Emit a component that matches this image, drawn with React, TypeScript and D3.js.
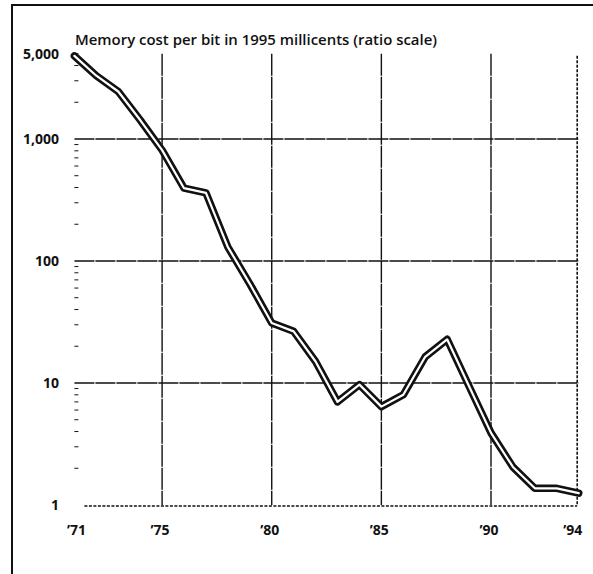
import React, { useEffect, useRef } from 'react';
import * as d3 from 'd3';

// memory cost per bit, 1995 millicents
const years = [1971, 1972, 1973, 1974, 1975, 1976, 1977, 1978, 1979, 1980, 1981, 1982,
  1983, 1984, 1985, 1986, 1987, 1988, 1989, 1990, 1991, 1992, 1993, 1994];
const costs = [4800, 3300, 2450, 1430, 810, 395, 362, 130, 65, 31, 26.5, 15,
  7.0, 9.7, 6.4, 8.0, 16.4, 22.8, 9.4, 3.9, 2.05, 1.37, 1.37, 1.25];

const yTickValues = [1, 10, 100, 1000, 5000];
const yTickLabels = ['1', '10', '100', '1,000', '5,000'];
const xTickValues = [1971, 1975, 1980, 1985, 1990, 1994];
const xTickLabels = ['\u201971', '\u201975', '\u201980', '\u201985', '\u201990', '\u201994'];
const gridYears = [1975, 1980, 1985, 1990];
const gridValues = [10, 100, 1000];

const title = 'Memory cost per bit in 1995 millicents (ratio scale)';

const App = () => {
  const svgRef = useRef(null);

  useEffect(() => {
    const svg = d3.select(svgRef.current);
    svg.selectAll('*').remove();

    const font = '"Open Sans", "Liberation Sans", sans-serif';
    const ink = '#111';

    const x = d3.scaleLinear().domain([1971, 1994]).range([74.4, 578.7]);
    const y = d3.scaleLog().domain([1, 5000]).range([505, 53.7]);

    // outer frame (top + left)
    svg.append('line')
      .attr('x1', 11).attr('x2', 593).attr('y1', 5).attr('y2', 5)
      .style('stroke', ink).style('stroke-width', 2.2);
    svg.append('line')
      .attr('x1', 12).attr('x2', 12).attr('y1', 4).attr('y2', 574)
      .style('stroke', ink).style('stroke-width', 2);

    // title
    svg.append('text')
      .attr('x', 75).attr('y', 45)
      .attr('textLength', 362)
      .attr('lengthAdjust', 'spacingAndGlyphs')
      .style('font-family', font)
      .style('font-weight', 600)
      .style('font-size', '14px')
      .style('fill', ink)
      .text(title);

    const g = svg.append('g');

    // horizontal gridlines
    g.selectAll('.hgrid')
      .data(gridValues)
      .enter().append('line')
      .attr('class', 'hgrid')
      .attr('x1', x(1971)).attr('x2', x(1994))
      .attr('y1', d => y(d)).attr('y2', d => y(d))
      .style('stroke', ink).style('stroke-width', 1.4)
      .style('stroke-dasharray', '20,1');

    // vertical gridlines
    g.selectAll('.vgrid')
      .data(gridYears)
      .enter().append('line')
      .attr('class', 'vgrid')
      .attr('x1', d => x(d)).attr('x2', d => x(d))
      .attr('y1', y(5000)).attr('y2', y(1))
      .style('stroke', ink).style('stroke-width', 1.4)
      .style('stroke-dasharray', '22,1');

    // right border (dotted) and baseline
    g.append('line')
      .attr('x1', x(1994) - 1.5).attr('x2', x(1994) - 1.5)
      .attr('y1', y(5000) + 2).attr('y2', y(1))
      .style('stroke', ink).style('stroke-width', 1.6)
      .style('stroke-dasharray', '3,1.5');
    g.append('line')
      .attr('x1', x(1971) + 10).attr('x2', x(1994) - 1.5)
      .attr('y1', y(1) + 1).attr('y2', y(1) + 1)
      .style('stroke', ink).style('stroke-width', 1.3)
      .style('stroke-dasharray', '3,1.5');

    // minor log ticks on the left
    const minor = [];
    [1, 10, 100, 1000].forEach(dec => {
      for (let k = 2; k <= 9; k++) {
        if (dec * k <= 5000) minor.push(dec * k);
      }
    });
    g.selectAll('.minor')
      .data(minor)
      .enter().append('line')
      .attr('class', 'minor')
      .attr('x1', x(1971)).attr('x2', x(1971) + 4)
      .attr('y1', d => y(d)).attr('y2', d => y(d))
      .style('stroke', ink).style('stroke-width', 1);

    // y labels
    g.selectAll('.ylab')
      .data(yTickValues)
      .enter().append('text')
      .attr('class', 'ylab')
      .attr('x', 59)
      .attr('y', d => y(d))
      .attr('dy', '0.36em')
      .attr('text-anchor', 'end')
      .style('font-family', font)
      .style('font-weight', 700)
      .style('font-size', '14px')
      .style('fill', ink)
      .text((d, i) => yTickLabels[i]);

    // x labels
    g.selectAll('.xlab')
      .data(xTickValues)
      .enter().append('text')
      .attr('class', 'xlab')
      .attr('x', d => x(d) + (d === 1994 ? -6 : d === 1971 ? 2 : -2))
      .attr('y', 535)
      .attr('text-anchor', 'middle')
      .style('font-family', font)
      .style('font-weight', 700)
      .style('font-size', '14px')
      .style('fill', ink)
      .text((d, i) => xTickLabels[i]);

    // the double line: thick black with a thin white core
    const points = years.map((yr, i) => ({ yr, v: costs[i] }));
    const line = d3.line()
      .x(d => x(d.yr))
      .y(d => y(d.v));

    g.append('path')
      .datum(points)
      .attr('d', line)
      .style('fill', 'none')
      .style('stroke', ink)
      .style('stroke-width', 7.5)
      .style('stroke-linejoin', 'round')
      .style('stroke-linecap', 'round');
    g.append('path')
      .datum(points)
      .attr('d', line)
      .style('fill', 'none')
      .style('stroke', '#fff')
      .style('stroke-width', 2.2)
      .style('stroke-linejoin', 'round')
      .style('stroke-linecap', 'round');
  }, []);

  return (
    <svg
      ref={svgRef}
      width={593}
      height={574}
      style={{ position: 'absolute', left: 0, top: 0, background: '#fff' }}
    />
  );
};

export default App;
